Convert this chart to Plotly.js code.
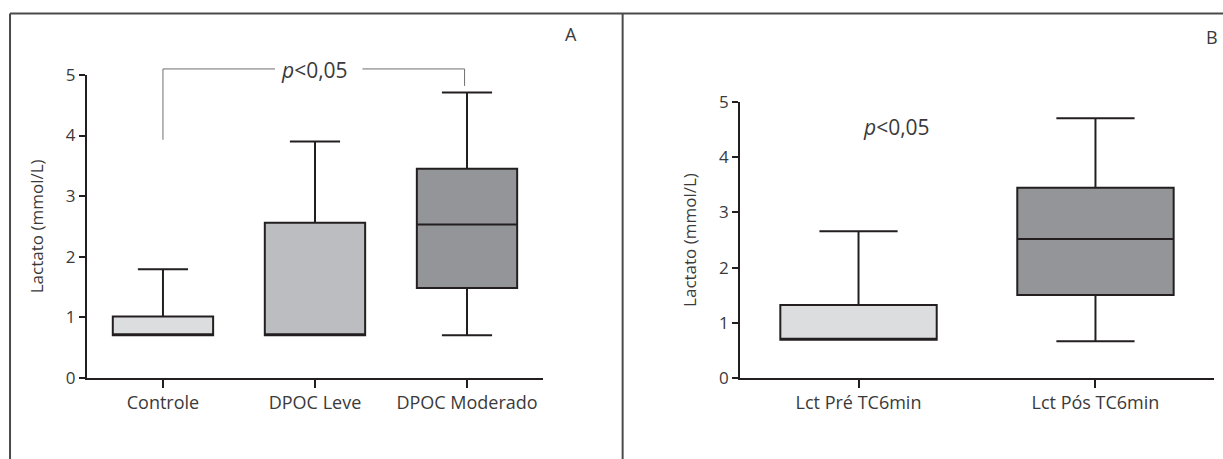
<!DOCTYPE html>
<html>
<head>
<meta charset="utf-8">
<script src="https://cdn.plot.ly/plotly-3.0.1.min.js"></script>
<style>html,body{margin:0;padding:0;background:#fff;}#chart{width:1223px;height:459px;}</style>
</head>
<body>
<div id="chart"></div>
<script>
// Panel A
const categoriesA = ["Controle", "DPOC Leve", "DPOC Moderado"];
const lowA    = [0.70, 0.70, 0.70];
const q1A     = [0.70, 0.70, 1.48];
const medianA = [0.70, 0.70, 2.53];
const q3A     = [1.01, 2.56, 3.45];
const highA   = [1.79, 3.90, 4.71];
const colorsA = ["#dcdddf", "#bcbdc0", "#949599"];

// Panel B
const categoriesB = ["Lct Pré TC6min", "Lct Pós TC6min"];
const lowB    = [0.69, 0.66];
const q1B     = [0.69, 1.50];
const medianB = [0.69, 2.52];
const q3B     = [1.32, 3.45];
const highB   = [2.66, 4.71];
const colorsB = ["#dcdddf", "#949599"];

const tickVals = [0, 1, 2, 3, 4, 5];
const tickText = ["0", "1", "2", "3", "4", "5"];
const yTitle = "Lactato (mmol/L)";
const pText = "<i>p</i>&lt;0,05";

// significance bracket (panel A), in data units
const bracketFrom = 0, bracketTo = 2;       // category indices
const bracketLowLeft = 3.93, bracketTop = 5.10, bracketLowRight = 4.82;
const pTextA = {x: 1.0, y: 5.08};
const pTextB = {x: 0.16, y: 4.56};

const INK = "#231f20";
const TXT = "#3a3a3a";
const FONT = "Open Sans, sans-serif";

// axis geometry
const xDomA = [0.0711, 0.4440], xRangeA = [-0.5, 2.5];
const yDomA = [0.1771, 0.8366];
const xDomB = [0.6051, 0.9926], xRangeB = [-0.5, 1.5];
const yDomB = [0.1771, 0.7771];
const yRange = [0, 5];

function toPaper(v, dom, rng) {
  return dom[0] + (v - rng[0]) / (rng[1] - rng[0]) * (dom[1] - dom[0]);
}
const pxA = v => toPaper(v, xDomA, xRangeA);
const pyA = v => toPaper(v, yDomA, yRange);
const pxB = v => toPaper(v, xDomB, xRangeB);
const pyB = v => toPaper(v, yDomB, yRange);

const traces = [];
categoriesA.forEach((c, i) => {
  traces.push({
    type: "box", x: [c], q1: [q1A[i]], median: [medianA[i]], q3: [q3A[i]],
    lowerfence: [lowA[i]], upperfence: [highA[i]],
    xaxis: "x", yaxis: "y", width: 0.66, whiskerwidth: 0.5,
    fillcolor: colorsA[i], line: {color: INK, width: 2},
    boxpoints: false, hoverinfo: "skip", showlegend: false
  });
});
categoriesB.forEach((c, i) => {
  traces.push({
    type: "box", x: [c], q1: [q1B[i]], median: [medianB[i]], q3: [q3B[i]],
    lowerfence: [lowB[i]], upperfence: [highB[i]],
    xaxis: "x2", yaxis: "y2", width: 0.66, whiskerwidth: 0.5,
    fillcolor: colorsB[i], line: {color: INK, width: 2},
    boxpoints: false, hoverinfo: "skip", showlegend: false
  });
});

const xCommon = {
  type: "category", showline: true, linecolor: INK, linewidth: 2,
  ticks: "outside", ticklen: 8, tickwidth: 2, tickcolor: INK,
  showgrid: false, zeroline: false, fixedrange: true,
  tickfont: {family: FONT, size: 18, color: TXT}
};
const yCommon = {
  range: yRange, tickvals: tickVals, ticktext: tickText,
  showline: true, linecolor: INK, linewidth: 2,
  ticks: "outside", ticklen: 6, tickwidth: 2, tickcolor: INK,
  showgrid: false, zeroline: false, fixedrange: true,
  tickfont: {family: FONT, size: 17, color: TXT},
  title: {text: yTitle, font: {family: FONT, size: 17, color: TXT}, standoff: 18}
};

const gray = "#6d6e70";
const frame = "#4a4a4a";
const gapL = 0.737, gapR = 1.312;

const layout = {
  width: 1223, height: 459,
  margin: {l: 0, r: 0, t: 0, b: 0},
  paper_bgcolor: "#ffffff", plot_bgcolor: "rgba(0,0,0,0)",
  showlegend: false, boxmode: "overlay",
  font: {family: FONT, color: TXT},
  xaxis: Object.assign({}, xCommon, {domain: xDomA, range: xRangeA, anchor: "y"}),
  yaxis: Object.assign({}, yCommon, {domain: yDomA, anchor: "x"}),
  xaxis2: Object.assign({}, xCommon, {domain: xDomB, range: xRangeB, anchor: "y2"}),
  yaxis2: Object.assign({}, yCommon, {domain: yDomB, anchor: "x2"}),
  shapes: [
    // outer frame lines
    {type: "line", xref: "paper", yref: "paper", x0: 0.0082, x1: 1, y0: 0.9706, y1: 0.9706, line: {color: frame, width: 2}},
    {type: "line", xref: "paper", yref: "paper", x0: 0.0082, x1: 0.0082, y0: 0, y1: 0.9706, line: {color: frame, width: 2}},
    {type: "line", xref: "paper", yref: "paper", x0: 0.5091, x1: 0.5091, y0: 0, y1: 0.9706, line: {color: frame, width: 2}},
    // significance bracket (panel A)
    {type: "line", xref: "paper", yref: "paper", x0: pxA(bracketFrom), x1: pxA(bracketFrom), y0: pyA(bracketLowLeft), y1: pyA(bracketTop), line: {color: gray, width: 1}},
    {type: "line", xref: "paper", yref: "paper", x0: pxA(bracketFrom), x1: pxA(gapL), y0: pyA(bracketTop), y1: pyA(bracketTop), line: {color: gray, width: 1}},
    {type: "line", xref: "paper", yref: "paper", x0: pxA(gapR), x1: pxA(bracketTo - 0.016), y0: pyA(bracketTop), y1: pyA(bracketTop), line: {color: gray, width: 1}},
    {type: "line", xref: "paper", yref: "paper", x0: pxA(bracketTo - 0.016), x1: pxA(bracketTo - 0.016), y0: pyA(bracketTop), y1: pyA(bracketLowRight), line: {color: gray, width: 1}}
  ],
  annotations: [
    {xref: "paper", yref: "paper", x: pxA(pTextA.x), y: pyA(pTextA.y), text: pText, showarrow: false, font: {family: FONT, size: 21, color: TXT}, xanchor: "center", yanchor: "middle"},
    {xref: "paper", yref: "paper", x: pxB(pTextB.x), y: pyB(pTextB.y), text: pText, showarrow: false, font: {family: FONT, size: 21, color: TXT}, xanchor: "center", yanchor: "middle"},
    {xref: "paper", yref: "paper", x: 0.4669, y: 0.926, text: "A", showarrow: false, font: {family: FONT, size: 18, color: TXT}, xanchor: "center", yanchor: "middle"},
    {xref: "paper", yref: "paper", x: 0.9906, y: 0.920, text: "B", showarrow: false, font: {family: FONT, size: 18, color: TXT}, xanchor: "center", yanchor: "middle"}
  ]
};

Plotly.newPlot("chart", traces, layout, {displayModeBar: false, staticPlot: true});
</script>
</body>
</html>
